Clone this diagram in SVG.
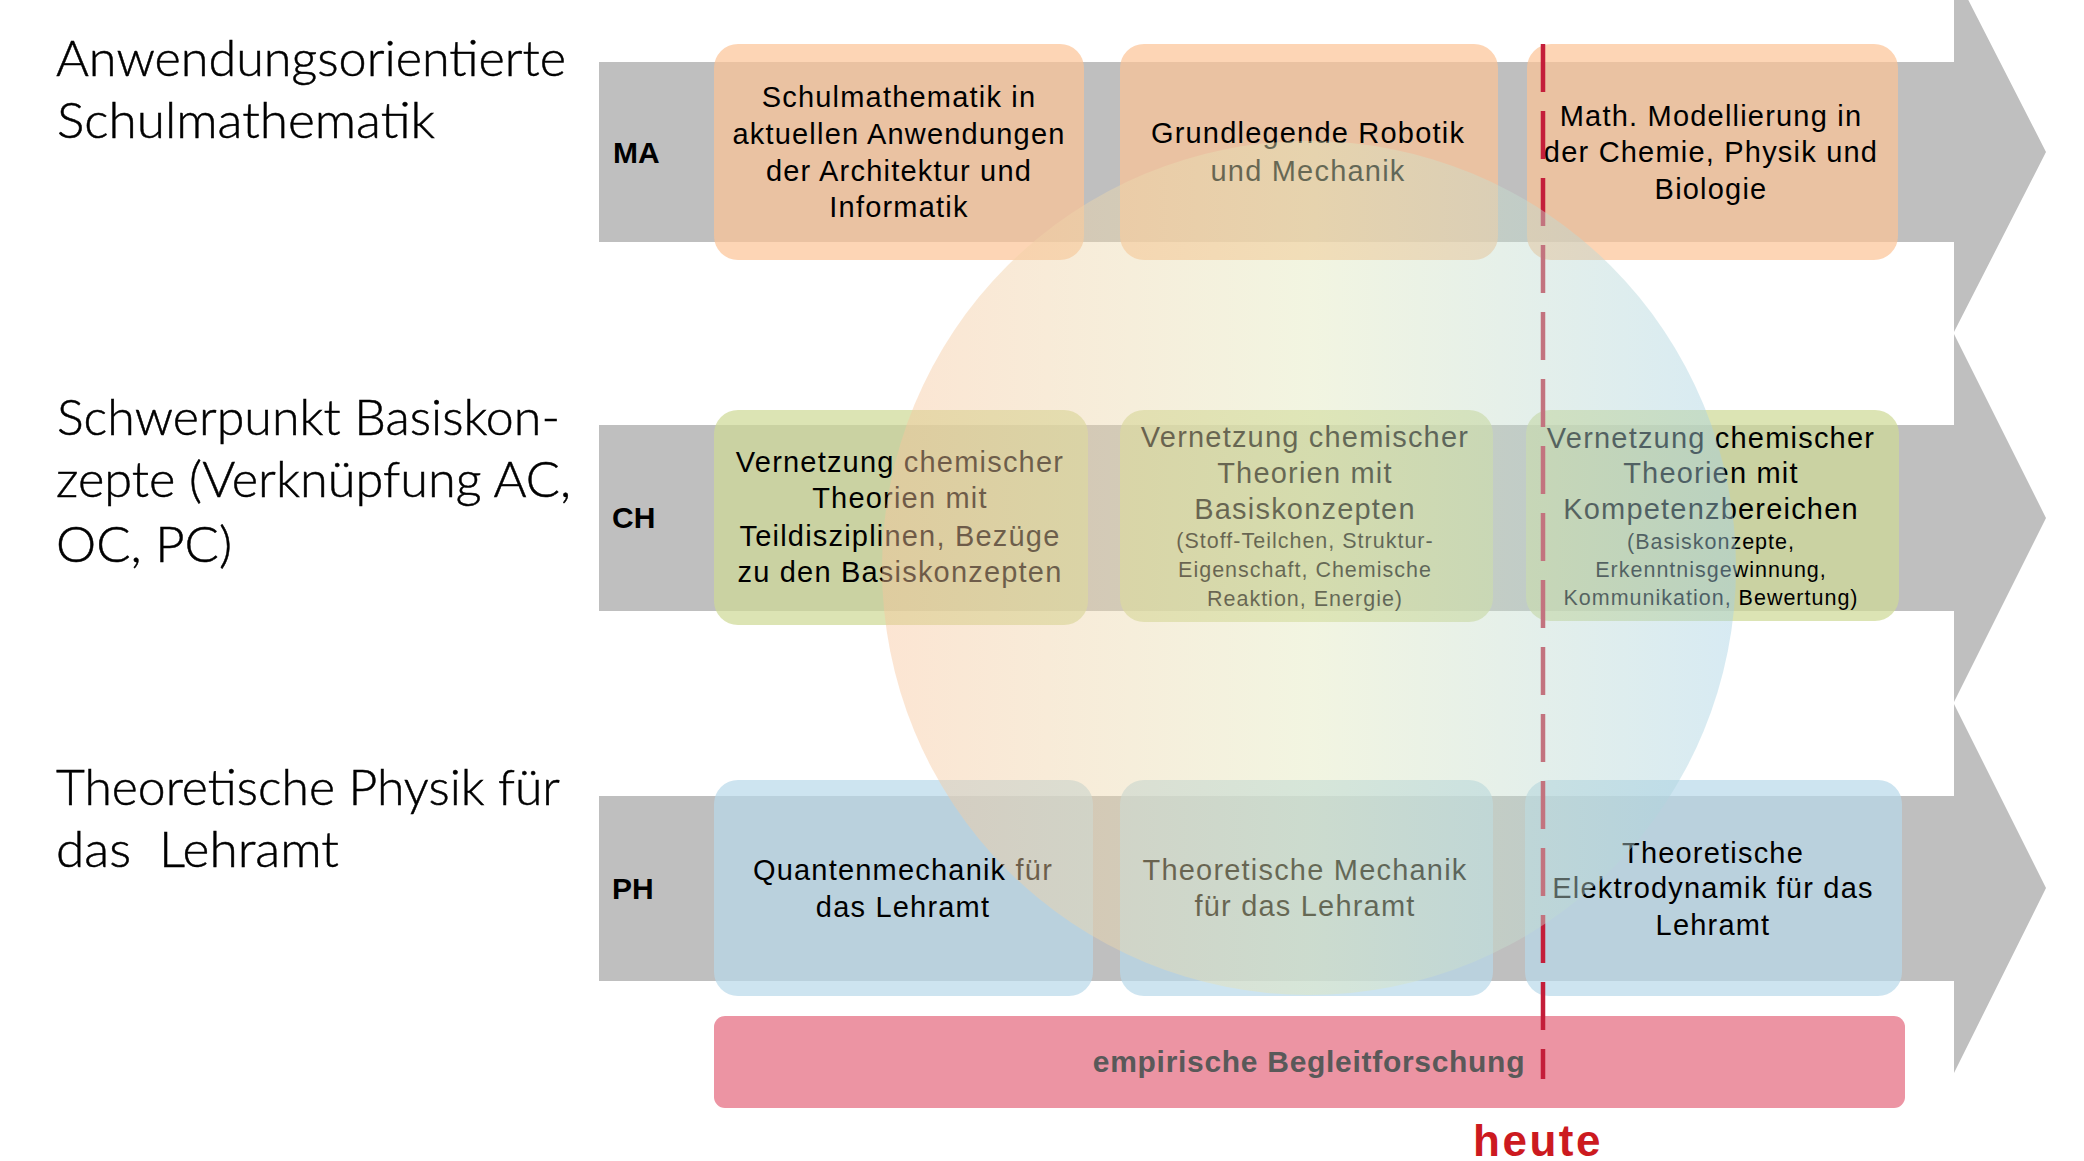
<svg xmlns="http://www.w3.org/2000/svg" width="2084" height="1161" viewBox="0 0 2084 1161">
<defs>
<linearGradient id="circGrad" x1="0" y1="0" x2="1" y2="0">
<stop offset="0" stop-color="#F8C59C"/>
<stop offset="0.5" stop-color="#E2E8BC"/>
<stop offset="1" stop-color="#A6D1E4"/>
</linearGradient>
<style>
.title{font-family:Lato,"Open Sans","Liberation Sans",sans-serif;font-weight:300;font-size:50px;fill:#000;stroke:#000;stroke-width:0.5px}
.lane{fill:#BFBFBF}
.code{font-family:"Liberation Sans",Arial,sans-serif;font-weight:bold;font-size:30px;fill:#000}
.ma{fill:#FCC395;fill-opacity:0.7}
.ch{fill:#CED997;fill-opacity:0.72}
.ph{fill:#B8D8EA;fill-opacity:0.7}
.t{font-family:"Liberation Sans",Arial,sans-serif;font-size:29px;letter-spacing:1.2px;fill:#000;text-anchor:middle}
.s{font-family:"Liberation Sans",Arial,sans-serif;font-size:21.5px;letter-spacing:1px;fill:#000;text-anchor:middle}
.emp{font-family:"Liberation Sans",Arial,sans-serif;font-weight:bold;font-size:30px;letter-spacing:0.7px;fill:#595959;text-anchor:middle}
.heute{font-family:"Liberation Sans",Arial,sans-serif;font-weight:bold;font-size:44px;letter-spacing:2.5px;fill:#CC1A1F;text-anchor:middle}
</style>
</defs>
<rect width="2084" height="1161" fill="#FFFFFF"/>

<g id="titles">
<text class="title" x="56" y="76" textLength="510" lengthAdjust="spacingAndGlyphs">Anwendungsorientierte</text>
<text class="title" x="57" y="138" textLength="378" lengthAdjust="spacingAndGlyphs">Schulmathematik</text>
<text class="title" x="57" y="435" textLength="503" lengthAdjust="spacingAndGlyphs">Schwerpunkt Basiskon-</text>
<text class="title" x="56" y="497" textLength="515" lengthAdjust="spacingAndGlyphs">zepte (Verknüpfung AC,</text>
<text class="title" x="56" y="562" textLength="176" lengthAdjust="spacingAndGlyphs">OC, PC)</text>
<text class="title" x="56" y="805" textLength="504" lengthAdjust="spacingAndGlyphs">Theoretische Physik für</text>
<text class="title" x="56" y="867" textLength="283" lengthAdjust="spacingAndGlyphs" xml:space="preserve">das  Lehramt</text>
</g>

<g id="lanes">
<polygon class="lane" points="599,62 1954,62 1954,-28 2046,152 1954,332 1954,242 599,242"/>
<polygon class="lane" points="599,425 1954,425 1954,334 2046,518 1954,702 1954,611 599,611"/>
<polygon class="lane" points="599,796 1954,796 1954,704 2046,888 1954,1073 1954,981 599,981"/>
<text class="code" x="613" y="163">MA</text>
<text class="code" x="612" y="528">CH</text>
<text class="code" x="612" y="899">PH</text>
</g>

<g id="ma-1"><rect class="ma" x="714" y="44" width="370" height="216" rx="24"/>
<text class="t" x="899" y="107">Schulmathematik in</text>
<text class="t" x="899" y="144">aktuellen Anwendungen</text>
<text class="t" x="899" y="181">der Architektur und</text>
<text class="t" x="899" y="217">Informatik</text></g>
<g id="ma-2"><rect class="ma" x="1120" y="44" width="378" height="216" rx="24"/>
<text class="t" x="1308" y="143">Grundlegende Robotik</text>
<text class="t" x="1308" y="181">und Mechanik</text></g>
<g id="ma-3"><rect class="ma" x="1527" y="44" width="371" height="216" rx="24"/>
<text class="t" x="1711" y="126">Math. Modellierung in</text>
<text class="t" x="1711" y="162">der Chemie, Physik und</text>
<text class="t" x="1711" y="199">Biologie</text></g>

<g id="ch-1"><rect class="ch" x="714" y="410" width="374" height="215" rx="24"/>
<text class="t" x="900" y="472">Vernetzung chemischer</text>
<text class="t" x="900" y="508">Theorien mit</text>
<text class="t" x="900" y="546">Teildisziplinen, Bezüge</text>
<text class="t" x="900" y="582">zu den Basiskonzepten</text></g>
<g id="ch-2"><rect class="ch" x="1120" y="410" width="373" height="212" rx="24"/>
<text class="t" x="1305" y="447">Vernetzung chemischer</text>
<text class="t" x="1305" y="483">Theorien mit</text>
<text class="t" x="1305" y="519">Basiskonzepten</text>
<text class="s" x="1305" y="548">(Stoff-Teilchen, Struktur-</text>
<text class="s" x="1305" y="577">Eigenschaft, Chemische</text>
<text class="s" x="1305" y="606">Reaktion, Energie)</text></g>
<g id="ch-3"><rect class="ch" x="1526" y="410" width="373" height="211" rx="24"/>
<text class="t" x="1711" y="448">Vernetzung chemischer</text>
<text class="t" x="1711" y="483">Theorien mit</text>
<text class="t" x="1711" y="519">Kompetenzbereichen</text>
<text class="s" x="1711" y="549">(Basiskonzepte,</text>
<text class="s" x="1711" y="577">Erkenntnisgewinnung,</text>
<text class="s" x="1711" y="605">Kommunikation, Bewertung)</text></g>

<g id="ph-1"><rect class="ph" x="714" y="780" width="379" height="216" rx="24"/>
<text class="t" x="903" y="880">Quantenmechanik für</text>
<text class="t" x="903" y="917">das Lehramt</text></g>
<g id="ph-2"><rect class="ph" x="1120" y="780" width="373" height="216" rx="24"/>
<text class="t" x="1305" y="880">Theoretische Mechanik</text>
<text class="t" x="1305" y="916">für das Lehramt</text></g>
<g id="ph-3"><rect class="ph" x="1525" y="780" width="377" height="216" rx="24"/>
<text class="t" x="1713" y="863">Theoretische</text>
<text class="t" x="1713" y="898">Elektrodynamik für das</text>
<text class="t" x="1713" y="935">Lehramt</text></g>

<g id="empirie"><rect x="714" y="1016" width="1191" height="92" rx="11" fill="#EC94A3"/>
<text class="emp" x="1309" y="1072">empirische Begleitforschung</text></g>

<g id="connectors">
<line x1="1543" y1="44" x2="1543" y2="1079" stroke="#C41E3A" stroke-width="4.5" stroke-dasharray="48 19"/>
</g>

<g id="overlap-circle">
<circle cx="1309" cy="568" r="427" fill="url(#circGrad)" opacity="0.45"/>
</g>

<g id="heute"><text class="heute" x="1538" y="1156">heute</text></g>
</svg>
